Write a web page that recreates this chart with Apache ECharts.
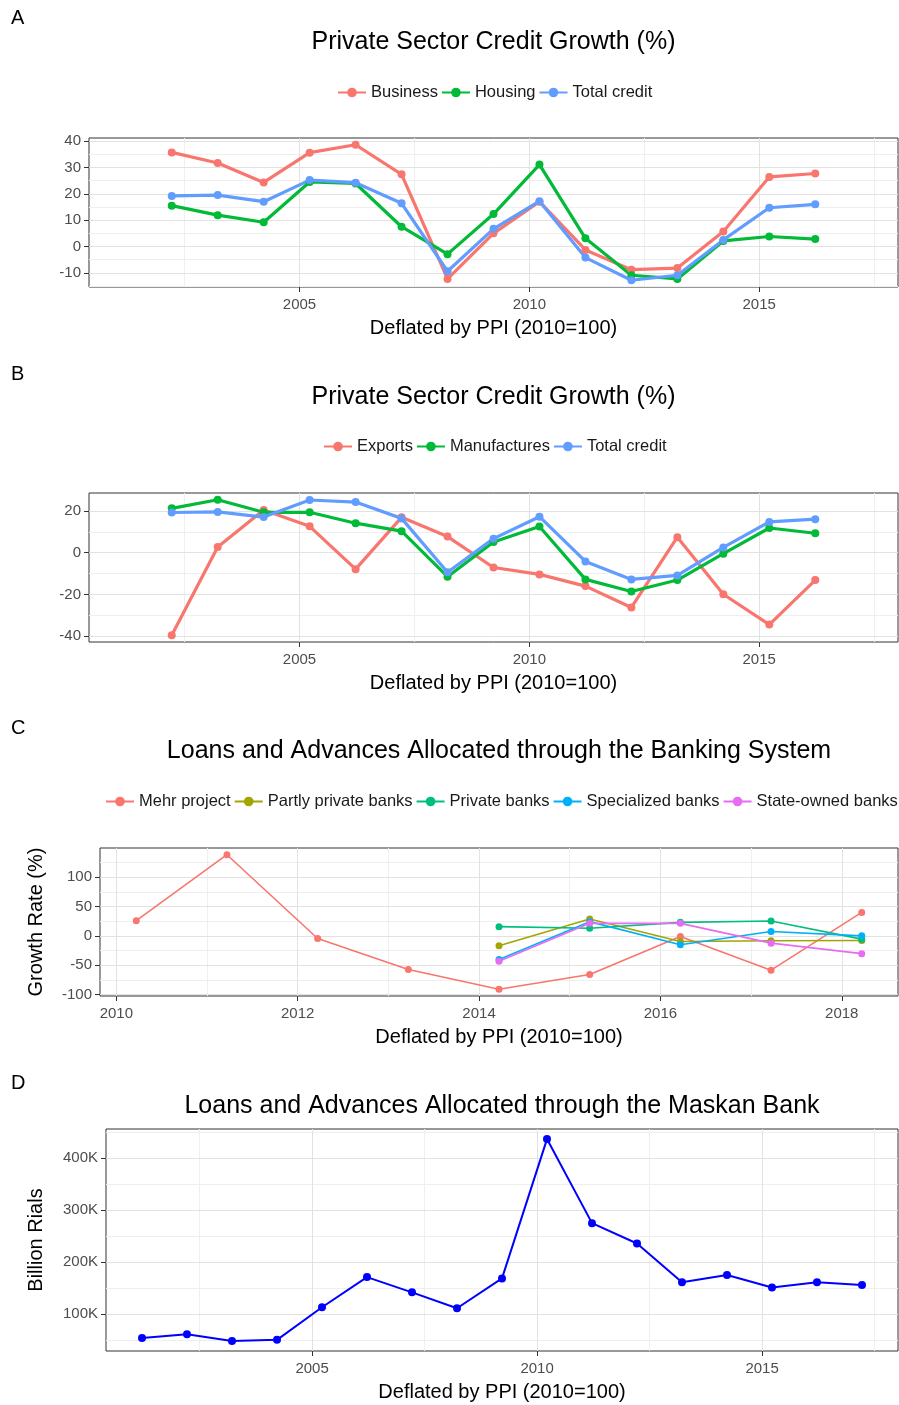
<!DOCTYPE html>
<html>
<head>
<meta charset="utf-8">
<script src="https://cdn.jsdelivr.net/npm/echarts@6/dist/echarts.min.js"></script>
<style>
  html, body { margin: 0; padding: 0; background: #ffffff; }
  #chart { width: 899px; height: 1405px; }
</style>
</head>
<body>
<div id="chart"></div>
<script>
// Iranian fiscal years start on 21 March; points sit at that date within each year
const FY_OFFSET = 0.22;

// ---- Panels A & B: private sector credit growth (%) ----
const yearsAB = [2002, 2003, 2004, 2005, 2006, 2007, 2008, 2009, 2010, 2011, 2012, 2013, 2014, 2015, 2016];
const business     = [35.7, 31.7, 24.3, 35.6, 38.6, 27.4, -12.3, 5.0, 17.0, -1.3, -8.8, -8.2, 5.7, 26.4, 27.7];
const housing      = [15.5, 11.9, 9.2, 24.5, 23.9, 7.5, -2.9, 12.3, 31.1, 3.1, -10.9, -12.3, 2.1, 3.8, 2.8];
const totalCredit  = [19.2, 19.5, 17.0, 25.2, 24.2, 16.4, -9.4, 6.7, 17.2, -4.2, -12.8, -10.9, 2.5, 14.7, 16.0];
const exportsGrowth = [-39.5, 2.7, 20.4, 12.6, -7.9, 16.9, 7.7, -7.1, -10.4, -16.0, -26.2, 7.4, -19.9, -34.4, -13.1];
const manufactures = [21.2, 25.3, 19.3, 19.3, 14.1, 10.3, -11.5, 5.1, 12.5, -12.8, -18.6, -13.1, -0.5, 11.8, 9.3];

// ---- Panel C: loans and advances through the banking system (growth %) ----
const yearsMehr = [2010, 2011, 2012, 2013, 2014, 2015, 2016, 2017, 2018];
const mehrProject = [25.8, 138.2, -4.5, -57.3, -91.0, -65.7, -1.1, -58.4, 39.9];
const yearsBanks = [2014, 2015, 2016, 2017, 2018];
const partlyPrivate = [-16.9, 28.7, -9.6, -8.4, -7.9];
const privateBanks  = [15.7, 12.9, 23.0, 25.3, -5.6];
const specialized   = [-40.4, 24.2, -15.2, 7.3, 0.0];
const stateOwned    = [-43.3, 21.3, 21.3, -12.4, -30.3];

// ---- Panel D: loans and advances through the Maskan Bank (billion rials) ----
const yearsMaskan = [2001, 2002, 2003, 2004, 2005, 2006, 2007, 2008, 2009, 2010, 2011, 2012, 2013, 2014, 2015, 2016, 2017];
const maskan = [53400, 61000, 48000, 50000, 112800, 171000, 141600, 111000, 168500, 437000, 275000, 235700, 161000, 175000, 151000, 161000, 155700];

// ---- tick marks ----
const yearTicksLong = [2005, 2010, 2015];
const yearTicksBanks = [2010, 2012, 2014, 2016, 2018];
const ticksA = [-10, 0, 10, 20, 30, 40];
const ticksB = [-40, -20, 0, 20];
const ticksC = [-100, -50, 0, 50, 100];
const ticksD = [100000, 200000, 300000, 400000];

const FONT = "'Liberation Sans', Arial, Helvetica, sans-serif";
const COL = {
  red: '#F8766D', green: '#00BA38', blue: '#619CFF',
  olive: '#A3A500', teal: '#00BF7D', sky: '#00B0F6', pink: '#E76BF3',
  maskan: '#0000FF'
};

// ggplot-style 5% padding around the data
function padded(arrays) {
  const all = [].concat(...arrays);
  const lo = Math.min(...all), hi = Math.max(...all);
  const r = hi - lo;
  return [lo - 0.05 * r, hi + 0.05 * r];
}
const pts = (years, vals) => years.map((y, i) => [y + FY_OFFSET, vals[i]]);

// minor breaks halfway between major breaks, inside the axis range
function minors(ticks, range) {
  const step = ticks[1] - ticks[0];
  const out = [ticks[0] - step / 2];
  ticks.forEach(t => out.push(t + step / 2));
  return out.filter(v => v > range[0] && v < range[1]);
}

const xLong = padded([yearsMaskan.map(y => y + FY_OFFSET)]);
const xBanks = padded([yearsMehr.map(y => y + FY_OFFSET)]);
const yA = padded([business, housing, totalCredit]);
const yB = padded([exportsGrowth, manufactures, totalCredit]);
const yC = padded([mehrProject, partlyPrivate, privateBanks, specialized, stateOwned]);
const yD = padded([maskan]);

// plot panels (pixels)
const panels = [
  { left: 89,  top: 138,  width: 809, height: 149 },
  { left: 89,  top: 493,  width: 809, height: 149 },
  { left: 100, top: 848,  width: 798, height: 148 },
  { left: 106, top: 1129, width: 792, height: 222 }
];
const centerX = p => p.left + p.width / 2;

const tickLabel = { color: '#4d4d4d', fontSize: 15, fontFamily: FONT };
const axisName = { color: '#000000', fontSize: 20, fontFamily: FONT };

function xAxis(i, range, ticks) {
  return {
    type: 'value', gridIndex: i, min: range[0], max: range[1],
    axisLine: { show: false, onZero: false },
    splitLine: { show: false },
    axisTick: { show: true, customValues: ticks, length: 5, lineStyle: { color: '#333333', width: 1 } },
    axisLabel: { customValues: ticks, margin: 10, formatter: v => String(v), ...tickLabel },
    name: 'Deflated by PPI (2010=100)', nameLocation: 'middle', nameGap: 31,
    nameTextStyle: axisName
  };
}
function yAxis(i, range, ticks, name, gap, fmt) {
  const ax = {
    type: 'value', gridIndex: i, min: range[0], max: range[1],
    axisLine: { show: false, onZero: false },
    splitLine: { show: false },
    axisTick: { show: true, customValues: ticks, length: 5, lineStyle: { color: '#333333', width: 1 } },
    axisLabel: { customValues: ticks, margin: 8, formatter: fmt || (v => String(v)), ...tickLabel }
  };
  if (name) {
    ax.name = name; ax.nameLocation = 'middle'; ax.nameGap = gap;
    ax.nameTextStyle = axisName;
  }
  return ax;
}

// background grid drawn as reference lines on each panel's own scales
function gridLines(i, xr, xt, yr, yt) {
  const major = { color: '#e2e2e2', width: 1, type: 'solid' };
  const minor = { color: '#efefef', width: 1, type: 'solid' };
  const d = [];
  minors(xt, xr).forEach(v => d.push({ xAxis: v, lineStyle: minor }));
  minors(yt, yr).forEach(v => d.push({ yAxis: v, lineStyle: minor }));
  xt.forEach(v => d.push({ xAxis: v, lineStyle: major }));
  yt.forEach(v => d.push({ yAxis: v, lineStyle: major }));
  return {
    type: 'line', name: '_grid' + i, xAxisIndex: i, yAxisIndex: i, data: [],
    silent: true, z: 0,
    markLine: { silent: true, symbol: ['none', 'none'], label: { show: false },
      emphasis: { disabled: true }, animation: false, z: 0, data: d }
  };
}

function lineSeries(i, name, data, color, width, size) {
  return {
    type: 'line', name, xAxisIndex: i, yAxisIndex: i, data,
    symbol: 'circle', symbolSize: size, showSymbol: true,
    lineStyle: { color, width }, itemStyle: { color },
    emphasis: { disabled: true }, z: 3
  };
}

// legend centred over its panel
const measureCtx = document.createElement('canvas').getContext('2d');
const LEG_FONT_SIZE = 16.5, LEG_ITEM_W = 28, LEG_GAP = 3;
function legend(names, panel, top) {
  measureCtx.font = LEG_FONT_SIZE + 'px ' + FONT;
  let w = 0;
  names.forEach((n, k) => { w += LEG_ITEM_W + 5 + measureCtx.measureText(n).width; if (k) w += LEG_GAP; });
  return {
    data: names, left: Math.round(centerX(panel) - w / 2), top,
    orient: 'horizontal', padding: 0, itemWidth: LEG_ITEM_W, itemHeight: 12, itemGap: LEG_GAP,
    selectedMode: false,
    textStyle: { fontSize: LEG_FONT_SIZE, color: '#1a1a1a', fontFamily: FONT }
  };
}

function title(text, panel, top) {
  return { text, left: centerX(panel), top, textAlign: 'center', textVerticalAlign: 'top', padding: 0,
    textStyle: { fontSize: 25, fontWeight: 'normal', color: '#000000', fontFamily: FONT } };
}
function tag(text, top) {
  return { text, left: 11, top, padding: 0,
    textStyle: { fontSize: 20, fontWeight: 'normal', color: '#000000', fontFamily: FONT } };
}

const chart = echarts.init(document.getElementById('chart'), null, { renderer: 'canvas' });
chart.setOption({
  animation: false,
  backgroundColor: '#ffffff',
  title: [
    tag('A', 8), tag('B', 364), tag('C', 718), tag('D', 1073),
    title('Private Sector Credit Growth (%)', panels[0], 30),
    title('Private Sector Credit Growth (%)', panels[1], 385),
    title('Loans and Advances Allocated through the Banking System', panels[2], 739),
    title('Loans and Advances Allocated through the Maskan Bank', panels[3], 1094)
  ],
  legend: [
    legend(['Business', 'Housing', 'Total credit'], panels[0], 84),
    legend(['Exports', 'Manufactures', 'Total credit'], panels[1], 438),
    legend(['Mehr project', 'Partly private banks', 'Private banks', 'Specialized banks', 'State-owned banks'], panels[2], 793)
  ],
  grid: panels.map(p => ({ ...p, show: true, borderColor: '#333333', borderWidth: 1, backgroundColor: 'transparent', containLabel: false })),
  xAxis: [
    xAxis(0, xLong, yearTicksLong),
    xAxis(1, xLong, yearTicksLong),
    xAxis(2, xBanks, yearTicksBanks),
    xAxis(3, xLong, yearTicksLong)
  ],
  yAxis: [
    yAxis(0, yA, ticksA),
    yAxis(1, yB, ticksB),
    yAxis(2, yC, ticksC, 'Growth Rate (%)', 54),
    yAxis(3, yD, ticksD, 'Billion Rials', 60, v => (v / 1000) + 'K')
  ],
  series: [
    gridLines(0, xLong, yearTicksLong, yA, ticksA),
    gridLines(1, xLong, yearTicksLong, yB, ticksB),
    gridLines(2, xBanks, yearTicksBanks, yC, ticksC),
    gridLines(3, xLong, yearTicksLong, yD, ticksD),

    lineSeries(0, 'Business', pts(yearsAB, business), COL.red, 3.2, 8),
    lineSeries(0, 'Housing', pts(yearsAB, housing), COL.green, 3.2, 8),
    lineSeries(0, 'Total credit', pts(yearsAB, totalCredit), COL.blue, 3.2, 8),

    lineSeries(1, 'Exports', pts(yearsAB, exportsGrowth), COL.red, 3.2, 8),
    lineSeries(1, 'Manufactures', pts(yearsAB, manufactures), COL.green, 3.2, 8),
    lineSeries(1, 'Total credit', pts(yearsAB, totalCredit), COL.blue, 3.2, 8),

    lineSeries(2, 'Mehr project', pts(yearsMehr, mehrProject), COL.red, 1.6, 7),
    lineSeries(2, 'Partly private banks', pts(yearsBanks, partlyPrivate), COL.olive, 1.6, 7),
    lineSeries(2, 'Private banks', pts(yearsBanks, privateBanks), COL.teal, 1.6, 7),
    lineSeries(2, 'Specialized banks', pts(yearsBanks, specialized), COL.sky, 1.6, 7),
    lineSeries(2, 'State-owned banks', pts(yearsBanks, stateOwned), COL.pink, 1.6, 7),

    lineSeries(3, 'Maskan Bank', pts(yearsMaskan, maskan), COL.maskan, 2, 8)
  ]
});
</script>
</body>
</html>
